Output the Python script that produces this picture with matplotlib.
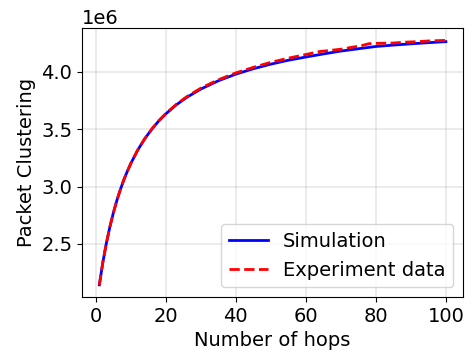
import matplotlib
matplotlib.use("Agg")
import matplotlib.pyplot as plt

# Simulation curve (values in packets)
sim_x = [1, 2, 3, 4, 5, 6, 7, 8, 9, 10, 12, 14, 16, 18, 20, 23, 26, 30, 35,
         40, 45, 50, 55, 60, 65, 70, 75, 80, 85, 90, 95, 100]
sim_y = [2.143e6, 2.339e6, 2.505e6, 2.647e6, 2.770e6, 2.878e6, 2.973e6, 3.058e6,
         3.133e6, 3.201e6, 3.319e6, 3.417e6, 3.500e6, 3.572e6, 3.633e6, 3.712e6,
         3.777e6, 3.849e6, 3.921e6, 3.979e6, 4.026e6, 4.066e6, 4.100e6, 4.128e6,
         4.155e6, 4.180e6, 4.200e6, 4.220e6, 4.232e6, 4.243e6, 4.253e6, 4.262e6]

# Experiment data
exp_x = [1, 2, 3, 4, 5, 6, 7, 8, 9, 10, 12, 14, 16, 18, 20, 23, 26, 30, 35,
         40, 45, 50, 55, 60, 64, 67, 70, 73, 76, 78, 80, 85, 88, 92, 95, 100]
exp_y = [2.143e6, 2.340e6, 2.504e6, 2.648e6, 2.771e6, 2.877e6, 2.974e6, 3.059e6,
         3.132e6, 3.202e6, 3.320e6, 3.418e6, 3.501e6, 3.574e6, 3.636e6, 3.716e6,
         3.783e6, 3.857e6, 3.930e6, 3.990e6, 4.038e6, 4.082e6, 4.118e6, 4.150e6,
         4.176e6, 4.186e6, 4.196e6, 4.212e6, 4.228e6, 4.244e6, 4.247e6, 4.250e6,
         4.257e6, 4.262e6, 4.268e6, 4.273e6]

fig = plt.figure(figsize=(4.66, 3.61), dpi=100)
ax = fig.add_axes([0.176, 0.177, 0.818, 0.745])

ax.plot(sim_x, sim_y, color="blue", linestyle="-", linewidth=2, label="Simulation")
ax.plot(exp_x, exp_y, color="red", linestyle="--", linewidth=2, label="Experiment data")

ax.grid(True, alpha=0.3, linewidth=1.2)
ax.set_xlabel("Number of hops", fontsize=14)
ax.set_ylabel("Packet Clustering", fontsize=14)
ax.tick_params(labelsize=14)
ax.yaxis.get_offset_text().set_fontsize(14)
ax.legend(loc="lower right", fontsize=14)

fig.savefig("out.png", dpi=100)
